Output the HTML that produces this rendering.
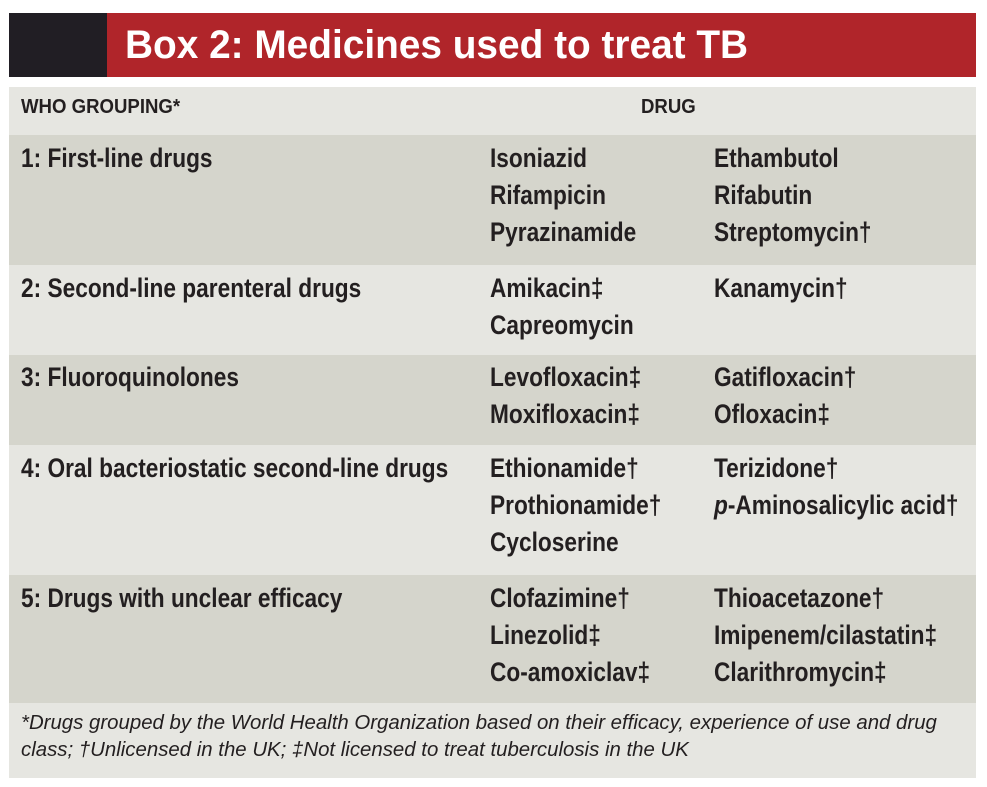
<!DOCTYPE html>
<html><head><meta charset="utf-8"><style>
body{margin:0;width:987px;height:787px;background:#fff;position:relative;overflow:hidden;font-family:"Liberation Sans",sans-serif;}
.a{position:absolute}
.t{position:absolute;font-weight:bold;color:#231f20;font-size:27px;line-height:37px;white-space:nowrap;transform:scaleX(0.84);transform-origin:0 0}
.r{position:absolute;left:9px;width:967px}
</style></head><body>
<div class="a" style="left:9px;top:13px;width:98px;height:64px;background:#211e24"></div>
<div class="a" style="left:107px;top:13px;width:869px;height:64px;background:#b0252a"></div>
<div class="t" style="left:125px;top:19px;color:#fff;font-size:40px;line-height:52px;transform:scaleX(0.97)">Box 2: Medicines used to treat TB</div>
<div class="r" style="top:87px;height:48px;background:#e6e6e1"></div>
<div class="r" style="top:135px;height:130px;background:#d5d5cc"></div>
<div class="r" style="top:265px;height:90px;background:#e6e6e1"></div>
<div class="r" style="top:355px;height:90px;background:#d5d5cc"></div>
<div class="r" style="top:445px;height:130px;background:#e6e6e1"></div>
<div class="r" style="top:575px;height:128px;background:#d5d5cc"></div>
<div class="r" style="top:703px;height:75px;background:#e6e6e1"></div>
<div class="t" style="left:21px;top:95px;font-size:20px;line-height:24px;transform:scaleX(0.93)">WHO GROUPING*</div>
<div class="t" style="left:641px;top:95px;font-size:20px;line-height:24px;transform:scaleX(0.93)">DRUG</div>

<div class="t" style="left:21px;top:140px">1: First-line drugs</div>
<div class="t" style="left:490px;top:140px">Isoniazid<br>Rifampicin<br>Pyrazinamide</div>
<div class="t" style="left:714px;top:140px">Ethambutol<br>Rifabutin<br>Streptomycin†</div>

<div class="t" style="left:21px;top:270px">2: Second-line parenteral drugs</div>
<div class="t" style="left:490px;top:270px">Amikacin‡<br>Capreomycin</div>
<div class="t" style="left:714px;top:270px">Kanamycin†</div>

<div class="t" style="left:21px;top:359px">3: Fluoroquinolones</div>
<div class="t" style="left:490px;top:359px">Levofloxacin‡<br>Moxifloxacin‡</div>
<div class="t" style="left:714px;top:359px">Gatifloxacin†<br>Ofloxacin‡</div>

<div class="t" style="left:21px;top:450px">4: Oral bacteriostatic second-line drugs</div>
<div class="t" style="left:490px;top:450px">Ethionamide†<br>Prothionamide†<br>Cycloserine</div>
<div class="t" style="left:714px;top:450px">Terizidone†<br><i>p</i>-Aminosalicylic acid†</div>

<div class="t" style="left:21px;top:580px">5: Drugs with unclear efficacy</div>
<div class="t" style="left:490px;top:580px">Clofazimine†<br>Linezolid‡<br>Co-amoxiclav‡</div>
<div class="t" style="left:714px;top:580px">Thioacetazone†<br>Imipenem/cilastatin‡<br>Clarithromycin‡</div>

<div class="a" style="left:21px;top:710px;font-size:20px;line-height:27px;font-style:italic;color:#231f20;white-space:nowrap;transform:scaleX(1.02);transform-origin:0 0">*Drugs grouped by the World Health Organization based on their efficacy, experience of use and drug<br>class; †Unlicensed in the UK; ‡Not licensed to treat tuberculosis in the UK</div>
</body></html>
